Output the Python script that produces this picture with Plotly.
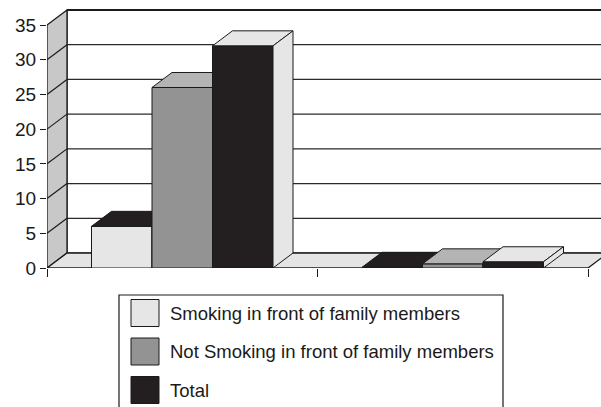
import plotly.graph_objects as go

# ---------------- data ----------------
categories = ["Group 1", "Group 2"]
series_names = [
    "Smoking in front of family members",
    "Not Smoking in front of family members",
    "Total",
]
smoking = [6, 0.1]
not_smoking = [26, 0.6]
total = [32, 0.9]
y_tick_values = [0, 5, 10, 15, 20, 25, 30, 35]
y_tick_labels = ["0", "5", "10", "15", "20", "25", "30", "35"]

# ---------------- styles ----------------
front_colors = ["#e6e6e6", "#939393", "#231f20"]
top_colors = ["#231f20", "#b4b4b4", "#e6e6e6"]
side_colors = ["#231f20", "#b4b4b4", "#e6e6e6"]
legend_colors = ["#e6e6e6", "#939393", "#231f20"]
FONT = "Liberation Sans, Arial, sans-serif"

W, H = 601, 407
M_L, M_R, M_T, M_B = 47, 0, 5, 139
plot_w = W - M_L - M_R
plot_h = H - M_T - M_B
px_per_cat = 270.5
px_per_unit = 243 / 35
x_min = -0.5
x_max = x_min + plot_w / px_per_cat
y_max = plot_h / px_per_unit
DX = 20 / px_per_cat
DY = 15 / px_per_unit
Y_TOP = max(y_tick_values)
bar_w = 60.5 / px_per_cat
x_left = -0.5
x_right = len(categories) - 0.5

fig = go.Figure()


def poly(xs, ys, fill, lw=1.0, lc="#1a1a1a"):
    xs = list(xs) + [xs[0]]
    ys = list(ys) + [ys[0]]
    fig.add_trace(go.Scatter(x=xs, y=ys, mode="lines", fill="toself",
                             fillcolor=fill, line=dict(color=lc, width=lw),
                             hoverinfo="skip", showlegend=False))


def line(xs, ys, lw=1.0, lc="#1a1a1a"):
    fig.add_trace(go.Scatter(x=xs, y=ys, mode="lines",
                             line=dict(color=lc, width=lw),
                             hoverinfo="skip", showlegend=False))


# back wall
poly([x_left + DX, x_right + DX + 1, x_right + DX + 1, x_left + DX],
     [DY, DY, Y_TOP + DY, Y_TOP + DY], "#ffffff", lw=1.2)
# gridlines on back wall
gx, gy = [], []
for v in y_tick_values[1:-1]:
    gx += [x_left + DX, x_right + DX + 1, None]
    gy += [v + DY, v + DY, None]
line(gx, gy, lw=1.2, lc="#2a2a2a")
# thicker top border
line([x_left + DX, x_right + DX + 1], [Y_TOP + DY, Y_TOP + DY], lw=2.2, lc="#1a1a1a")
# left wall
poly([x_left, x_left, x_left + DX, x_left + DX],
     [0, Y_TOP, Y_TOP + DY, DY], "#c8c8c8", lw=1.3)
# diagonal tick lines on left wall
dxs, dys = [], []
for v in y_tick_values[1:-1]:
    dxs += [x_left, x_left + DX, None]
    dys += [v, v + DY, None]
line(dxs, dys, lw=1.2)
# floor
poly([x_left, x_right, x_right + DX, x_left + DX],
     [0, 0, DY, DY], "#e4e4e4", lw=1.3)

# bars
series_values = [smoking, not_smoking, total]
n_series = len(series_values)
for ci, cat in enumerate(categories):
    for si in range(n_series):
        v = series_values[si][ci]
        x0 = ci + (si - n_series / 2) * bar_w
        x1 = x0 + bar_w
        # front face
        poly([x0, x1, x1, x0], [0, 0, v, v], front_colors[si], lw=1.0)
        # top face
        poly([x0, x1, x1 + DX, x0 + DX], [v, v, v + DY, v + DY], top_colors[si], lw=1.0)
        # side face
        poly([x1, x1 + DX, x1 + DX, x1], [0, DY, v + DY, v], side_colors[si], lw=1.0)


# ---------------- legend (drawn manually) ----------------
def px_x(px):
    return (px - M_L) / plot_w


def px_y(py):
    return (H - M_B - py) / plot_h


shapes = [dict(type="rect", xref="paper", yref="paper",
               x0=px_x(119), x1=px_x(503), y0=px_y(412), y1=px_y(295),
               line=dict(color="#1a1a1a", width=1.2), fillcolor="rgba(0,0,0,0)",
               layer="above")]
annotations = []
legend_centers = [313, 351.5, 390]
for name, col, cy in zip(series_names, legend_colors, legend_centers):
    shapes.append(dict(type="rect", xref="paper", yref="paper",
                       x0=px_x(131), x1=px_x(159), y0=px_y(cy + 13.5), y1=px_y(cy - 13.5),
                       line=dict(color="#1a1a1a", width=1), fillcolor=col, layer="above"))
    annotations.append(dict(xref="paper", yref="paper", x=px_x(168), y=px_y(cy),
                            xanchor="left", yanchor="middle", showarrow=False,
                            text=name, font=dict(family=FONT, size=18.5, color="#1a1a1a")))

fig.update_layout(
    template="none",
    width=W, height=H,
    margin=dict(l=M_L, r=M_R, t=M_T, b=M_B, pad=0),
    paper_bgcolor="white", plot_bgcolor="white",
    showlegend=False,
    shapes=shapes,
    annotations=annotations,
    font=dict(family=FONT, size=18, color="#1a1a1a"),
    xaxis=dict(range=[x_min, x_max], showgrid=False, zeroline=False, showline=False,
               tickmode="array", tickvals=[x_left + i for i in range(len(categories) + 1)],
               ticktext=["" for _ in range(len(categories) + 1)],
               ticks="outside", ticklen=8, tickwidth=1.2, tickcolor="#1a1a1a",
               automargin=False, fixedrange=True),
    yaxis=dict(range=[0, y_max], showgrid=False, zeroline=False, showline=False,
               tickmode="array", tickvals=y_tick_values, ticktext=y_tick_labels,
               ticks="outside", ticklen=6, tickwidth=1.2, tickcolor="#1a1a1a",
               tickfont=dict(family=FONT, size=19, color="#1a1a1a"),
               automargin=False, fixedrange=True),
)

fig.write_html("out.html")
